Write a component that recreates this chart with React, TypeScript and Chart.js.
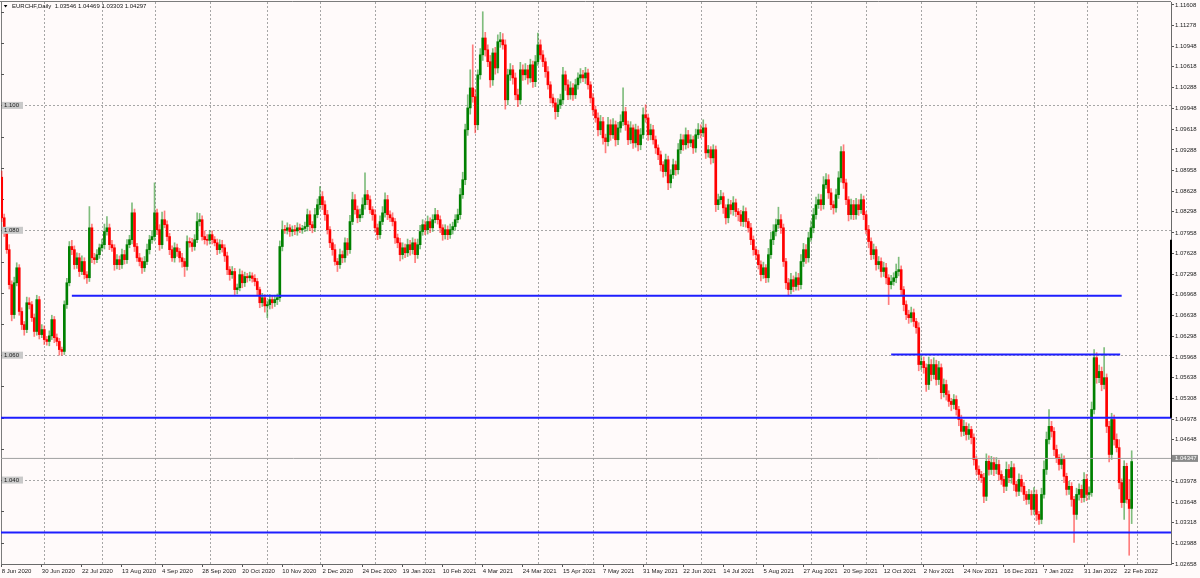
import React, { useEffect, useRef } from "react";
import { Chart, registerables } from "chart.js";

Chart.register(...registerables);

const FONT = "'Liberation Sans', Arial, sans-serif";
const BG = "#fffafa";

// ---- data (EURCHF daily) ----
const symbolName = "EURCHF,Daily";
const firstOpen = 1.0885;
const closes = [
  1.0820, 1.0798, 1.0769, 1.0713, 1.0665, 1.0716, 1.0740, 1.0670, 1.0649, 1.0641,
  1.0684, 1.0681, 1.0660, 1.0638, 1.0689, 1.0633, 1.0641, 1.0625, 1.0622, 1.0631,
  1.0657, 1.0628, 1.0622, 1.0609, 1.0606, 1.0681, 1.0716, 1.0774, 1.0769, 1.0745,
  1.0756, 1.0734, 1.0750, 1.0729, 1.0724, 1.0804, 1.0756, 1.0753, 1.0761, 1.0772,
  1.0777, 1.0798, 1.0804, 1.0777, 1.0772, 1.0745, 1.0753, 1.0745, 1.0761, 1.0753,
  1.0777, 1.0785, 1.0828, 1.0774, 1.0756, 1.0750, 1.0740, 1.0750, 1.0769, 1.0785,
  1.0790, 1.0828, 1.0801, 1.0777, 1.0817, 1.0809, 1.0790, 1.0769, 1.0756, 1.0772,
  1.0766, 1.0756, 1.0750, 1.0742, 1.0782, 1.0780, 1.0774, 1.0785, 1.0814, 1.0817,
  1.0790, 1.0785, 1.0784, 1.0793, 1.0785, 1.0780, 1.0769, 1.0777, 1.0772, 1.0759,
  1.0737, 1.0729, 1.0734, 1.0705, 1.0708, 1.0729, 1.0716, 1.0726, 1.0724, 1.0727,
  1.0723, 1.0718, 1.0705, 1.0684, 1.0692, 1.0679, 1.0681, 1.0689, 1.0684, 1.0689,
  1.0692, 1.0774, 1.0801, 1.0800, 1.0804, 1.0798, 1.0801, 1.0799, 1.0804, 1.0801,
  1.0803, 1.0806, 1.0825, 1.0809, 1.0804, 1.0825, 1.0841, 1.0854, 1.0841, 1.0825,
  1.0801, 1.0780, 1.0769, 1.0750, 1.0745, 1.0761, 1.0756, 1.0780, 1.0769, 1.0814,
  1.0849, 1.0833, 1.0820, 1.0825, 1.0841, 1.0857, 1.0849, 1.0833, 1.0825, 1.0804,
  1.0793, 1.0814, 1.0828, 1.0849, 1.0825, 1.0820, 1.0814, 1.0788, 1.0780, 1.0761,
  1.0772, 1.0764, 1.0777, 1.0769, 1.0780, 1.0761, 1.0777, 1.0798, 1.0809, 1.0801,
  1.0814, 1.0804, 1.0817, 1.0825, 1.0817, 1.0804, 1.0793, 1.0801, 1.0793, 1.0801,
  1.0806, 1.0817, 1.0825, 1.0857, 1.0881, 1.0961, 1.0996, 1.1028, 1.1014, 1.0969,
  1.1049, 1.1081, 1.1108, 1.1089, 1.1070, 1.1041, 1.1084, 1.1060, 1.1102, 1.1105,
  1.1097, 1.1009, 1.1049, 1.1057, 1.1044, 1.1017, 1.1009, 1.1057, 1.1049, 1.1057,
  1.1044, 1.1065, 1.1038, 1.1070, 1.1097, 1.1081, 1.1070, 1.1054, 1.1033, 1.1012,
  1.1004, 1.0990, 1.1001, 1.1009, 1.1049, 1.1033, 1.1017, 1.1028, 1.1017, 1.1033,
  1.1044, 1.1049, 1.1044, 1.1052, 1.1033, 1.1012, 1.0993, 1.0980, 1.0961, 1.0974,
  1.0948, 1.0942, 1.0969, 1.0953, 1.0969, 1.0945, 1.0964, 1.0974, 1.0990, 1.0969,
  1.0945, 1.0964, 1.0940, 1.0961, 1.0937, 1.0953, 1.0985, 1.0980, 1.0953, 1.0961,
  1.0945, 1.0932, 1.0921, 1.0905, 1.0894, 1.0913, 1.0876, 1.0889, 1.0905, 1.0897,
  1.0929, 1.0945, 1.0937, 1.0953, 1.0940, 1.0945, 1.0932, 1.0953, 1.0961, 1.0956,
  1.0964, 1.0924, 1.0929, 1.0916, 1.0929, 1.0841, 1.0849, 1.0854, 1.0836, 1.0820,
  1.0841, 1.0833, 1.0844, 1.0830, 1.0825, 1.0814, 1.0830, 1.0814, 1.0804, 1.0785,
  1.0769, 1.0761, 1.0745, 1.0729, 1.0740, 1.0724, 1.0761, 1.0785, 1.0798, 1.0809,
  1.0817, 1.0804, 1.0750, 1.0716, 1.0705, 1.0721, 1.0710, 1.0724, 1.0713, 1.0750,
  1.0769, 1.0756, 1.0788, 1.0804, 1.0825, 1.0841, 1.0849, 1.0841, 1.0873, 1.0881,
  1.0860, 1.0841, 1.0836, 1.0857, 1.0884, 1.0926, 1.0876, 1.0849, 1.0825, 1.0841,
  1.0825, 1.0841, 1.0833, 1.0849, 1.0825, 1.0801, 1.0782, 1.0761, 1.0769, 1.0745,
  1.0750, 1.0734, 1.0740, 1.0724, 1.0713, 1.0718, 1.0724, 1.0734, 1.0737, 1.0705,
  1.0681, 1.0665, 1.0660, 1.0668, 1.0654, 1.0644, 1.0585, 1.0590, 1.0580, 1.0553,
  1.0585, 1.0569, 1.0585, 1.0561, 1.0580, 1.0540, 1.0553, 1.0537, 1.0526, 1.0521,
  1.0529, 1.0513, 1.0497, 1.0478, 1.0486, 1.0473, 1.0481, 1.0468, 1.0433, 1.0417,
  1.0409, 1.0404, 1.0374, 1.0430, 1.0417, 1.0428, 1.0417, 1.0425, 1.0409, 1.0401,
  1.0390, 1.0417, 1.0404, 1.0420, 1.0393, 1.0382, 1.0401, 1.0390, 1.0377, 1.0369,
  1.0377, 1.0353, 1.0377, 1.0345, 1.0337, 1.0377, 1.0417, 1.0465, 1.0486, 1.0478,
  1.0449, 1.0436, 1.0425, 1.0433, 1.0406, 1.0385, 1.0390, 1.0369, 1.0345, 1.0377,
  1.0385, 1.0372, 1.0401, 1.0377, 1.0380, 1.0513, 1.0596, 1.0564, 1.0574, 1.0553,
  1.0564, 1.0486, 1.0441, 1.0497, 1.0465, 1.0452, 1.0396, 1.0364, 1.0422, 1.0369,
  1.03546, 1.04297,
];
// wick lengths above the body / below the body, in pips (0.0001)
const upperWickPips = [
  10, 6, 5, 8, 6, 9, 8, 5, 6, 5,
  9, 8, 5, 6, 7, 5, 8, 6, 5, 8,
  7, 5, 6, 5, 4, 6, 7, 8, 10, 6,
  8, 7, 9, 6, 5, 34, 6, 7, 8, 6,
  9, 12, 18, 6, 7, 5, 8, 6, 9, 7,
  8, 7, 16, 6, 5, 7, 6, 8, 9, 7,
  10, 48, 6, 8, 12, 14, 6, 5, 6, 8,
  6, 5, 7, 5, 9, 6, 7, 8, 14, 10,
  6, 9, 8, 7, 6, 5, 6, 8, 7, 5,
  6, 5, 8, 5, 6, 9, 6, 7, 5, 6,
  5, 6, 5, 4, 7, 5, 6, 8, 6, 7,
  6, 9, 14, 7, 8, 5, 6, 7, 8, 6,
  5, 7, 9, 6, 5, 10, 9, 16, 8, 6,
  7, 5, 6, 8, 5, 9, 6, 8, 7, 10,
  12, 8, 6, 9, 11, 35, 7, 6, 5, 8,
  6, 9, 10, 11, 7, 6, 8, 5, 6, 7,
  8, 6, 9, 7, 8, 6, 9, 10, 8, 6,
  9, 6, 8, 10, 7, 6, 5, 8, 6, 9,
  7, 8, 9, 10, 12, 9, 21, 29, 69, 12,
  8, 10, 42, 9, 8, 10, 7, 9, 11, 12,
  10, 8, 9, 10, 7, 8, 9, 12, 8, 10,
  7, 9, 6, 10, 19, 8, 7, 6, 8, 5,
  6, 7, 10, 9, 12, 6, 8, 10, 7, 9,
  8, 10, 7, 9, 6, 5, 7, 6, 8, 10,
  7, 6, 12, 8, 10, 6, 9, 11, 38, 7,
  6, 10, 5, 9, 6, 10, 11, 16, 6, 9,
  7, 6, 5, 6, 5, 9, 6, 8, 9, 6,
  10, 9, 8, 11, 7, 8, 6, 9, 10, 8,
  13, 6, 7, 5, 8, 6, 9, 10, 6, 5,
  9, 7, 10, 6, 5, 7, 9, 6, 5, 7,
  6, 5, 7, 6, 9, 5, 10, 12, 11, 9,
  20, 8, 6, 5, 7, 10, 6, 9, 7, 11,
  10, 8, 9, 11, 10, 12, 9, 8, 13, 10,
  8, 7, 6, 9, 10, 8, 11, 6, 5, 9,
  7, 10, 8, 9, 6, 5, 7, 6, 9, 5,
  8, 6, 9, 7, 5, 10, 8, 12, 20, 6,
  5, 6, 7, 9, 6, 5, 8, 10, 7, 6,
  12, 8, 11, 7, 10, 6, 9, 7, 6, 5,
  8, 6, 5, 7, 10, 6, 9, 5, 6, 5,
  6, 5, 7, 12, 9, 10, 8, 11, 7, 6,
  5, 12, 8, 10, 6, 5, 9, 7, 6, 5,
  8, 6, 11, 7, 5, 10, 14, 12, 27, 8,
  6, 7, 5, 9, 6, 5, 8, 6, 5, 10,
  9, 7, 11, 8, 9, 12, 13, 8, 10, 7,
  48, 6, 8, 10, 7, 9, 13, 6, 9, 5,
  32, 17.2,
];
const lowerWickPips = [
  6, 8, 6, 7, 10, 6, 5, 6, 8, 9,
  5, 7, 6, 8, 6, 7, 5, 8, 6, 7,
  6, 8, 7, 9, 6, 5, 6, 5, 8, 7,
  6, 8, 5, 7, 9, 6, 8, 7, 5, 6,
  5, 7, 6, 8, 6, 9, 7, 8, 6, 7,
  6, 5, 7, 8, 6, 7, 9, 6, 5, 7,
  6, 7, 8, 9, 6, 5, 7, 8, 6, 7,
  8, 7, 9, 16, 6, 7, 8, 6, 5, 7,
  6, 7, 8, 6, 7, 5, 8, 6, 7, 9,
  8, 9, 6, 8, 7, 5, 8, 6, 7, 5,
  6, 7, 9, 8, 6, 10, 19, 7, 9, 6,
  8, 6, 7, 5, 6, 8, 7, 6, 7, 5,
  6, 5, 7, 9, 8, 6, 5, 7, 8, 9,
  7, 8, 9, 6, 11, 6, 8, 7, 9, 6,
  5, 7, 8, 6, 5, 7, 8, 6, 9, 7,
  8, 6, 5, 7, 8, 6, 7, 9, 8, 10,
  7, 8, 6, 9, 7, 13, 6, 7, 6, 8,
  7, 8, 6, 5, 7, 8, 9, 7, 8, 6,
  7, 6, 5, 7, 6, 8, 9, 10, 9, 13,
  8, 7, 9, 10, 8, 12, 9, 10, 8, 9,
  7, 15, 8, 9, 10, 8, 11, 7, 9, 8,
  10, 7, 9, 8, 6, 7, 8, 9, 7, 8,
  7, 12, 8, 6, 7, 9, 8, 7, 9, 6,
  7, 8, 6, 9, 7, 8, 9, 7, 10, 8,
  10, 18, 7, 9, 6, 10, 8, 7, 6, 9,
  8, 6, 9, 7, 10, 8, 6, 7, 9, 8,
  7, 9, 8, 10, 9, 7, 11, 8, 6, 9,
  7, 6, 9, 7, 8, 6, 9, 7, 6, 8,
  6, 9, 7, 10, 8, 11, 8, 7, 9, 10,
  8, 7, 9, 8, 10, 7, 8, 9, 7, 8,
  9, 8, 7, 10, 6, 8, 7, 6, 8, 7,
  6, 9, 8, 10, 9, 7, 8, 6, 9, 7,
  8, 9, 7, 6, 8, 7, 6, 9, 7, 6,
  9, 8, 10, 7, 6, 7, 9, 8, 10, 7,
  8, 7, 9, 6, 8, 7, 10, 8, 7, 9,
  7, 9, 8, 10, 32, 7, 6, 8, 7, 9,
  10, 8, 9, 7, 8, 9, 10, 8, 9, 11,
  8, 10, 7, 9, 8, 10, 7, 9, 8, 10,
  7, 9, 10, 8, 7, 9, 8, 10, 9, 8,
  9, 8, 10, 7, 9, 8, 10, 7, 9, 8,
  10, 7, 8, 9, 10, 8, 7, 9, 10, 8,
  7, 9, 8, 10, 8, 7, 6, 8, 7, 9,
  10, 8, 9, 7, 10, 9, 8, 11, 45, 8,
  9, 8, 7, 10, 8, 6, 7, 9, 8, 10,
  7, 10, 12, 8, 9, 7, 10, 8, 27, 6,
  75, 24.3,
];

const dateLabels = [
  "8 Jun 2020", "30 Jun 2020", "22 Jul 2020", "13 Aug 2020", "4 Sep 2020",
  "28 Sep 2020", "20 Oct 2020", "10 Nov 2020", "2 Dec 2020", "24 Dec 2020",
  "19 Jan 2021", "10 Feb 2021", "4 Mar 2021", "24 Mar 2021", "15 Apr 2021",
  "7 May 2021", "31 May 2021", "22 Jun 2021", "14 Jul 2021", "5 Aug 2021",
  "27 Aug 2021", "20 Sep 2021", "12 Oct 2021", "2 Nov 2021", "24 Nov 2021",
  "16 Dec 2021", "7 Jan 2022", "31 Jan 2022", "22 Feb 2022",
];
const dateLabelEvery = 16; // bars between date labels
const monthStartBars = [17, 40, 61, 83, 106, 127, 149, 169, 189, 214, 236, 257, 279, 301, 323, 345, 367, 389, 412, 433, 453];

const priceTicks = [
  1.11608, 1.11278, 1.10948, 1.10618, 1.10288, 1.09948, 1.09618, 1.09288, 1.08958,
  1.08628, 1.08298, 1.07958, 1.07628, 1.07298, 1.06968, 1.06638, 1.06298, 1.05968,
  1.05638, 1.05308, 1.04978, 1.04648, 1.03978, 1.03648, 1.03318, 1.02988, 1.02658,
];
const roundLevels = [1.1, 1.08, 1.06, 1.04];
const levelPrices = [1.0695, 1.0601, 1.05, 1.0316];
const levelFromBar = [28, 355, null, null];
const levelToBar = [447, 446.4, null, null];
const bidPrice = 1.04347;
const lastOhlc = ["1.03546", "1.04469", "1.03303", "1.04297"];

const xMin = -0.28;
const xMax = 466.69;
const yMin = 1.02656;
const yMax = 1.11656;

const opens = closes.map((c, i) => (i === 0 ? firstOpen : closes[i - 1]));
const highs = closes.map((c, i) => Math.max(opens[i], c) + upperWickPips[i] / 10000);
const lows = closes.map((c, i) => Math.min(opens[i], c) - lowerWickPips[i] / 10000);
const isUp = closes.map((c, i) => c >= opens[i]);

const mtPlugin = {
  id: "mtDecor",
  beforeDraw(chart: any) {
    const { ctx, width, height } = chart;
    ctx.save();
    ctx.fillStyle = BG;
    ctx.fillRect(0, 0, width, height);
    ctx.restore();
  },
  beforeDatasetsDraw(chart: any) {
    const { ctx, chartArea: a, scales } = chart;
    const x = scales.x;
    const y = scales.y;
    ctx.save();
    ctx.strokeStyle = "#a6a6a6";
    ctx.lineWidth = 1;
    ctx.setLineDash([2, 2]);
    roundLevels.forEach((v) => {
      const py = Math.round(y.getPixelForValue(v)) + 0.5;
      ctx.beginPath();
      ctx.moveTo(a.left, py);
      ctx.lineTo(a.right, py);
      ctx.stroke();
    });
    monthStartBars.forEach((i) => {
      const px = Math.round(x.getPixelForValue(i)) + 0.5;
      ctx.beginPath();
      ctx.moveTo(px, a.top);
      ctx.lineTo(px, a.bottom);
      ctx.stroke();
    });
    ctx.setLineDash([]);
    // frame
    ctx.strokeStyle = "#7c7c7c";
    ctx.beginPath();
    ctx.moveTo(0, a.top - 0.5);
    ctx.lineTo(a.right, a.top - 0.5);
    ctx.moveTo(a.left + 0.5, a.top);
    ctx.lineTo(a.left + 0.5, a.bottom);
    ctx.stroke();
    // small marks on left edge every 0.005
    ctx.strokeStyle = "#555";
    for (let k = 206; k <= 223; k++) {
      const v = k * 0.005;
      const py = Math.round(y.getPixelForValue(v)) + 0.5;
      if (py < a.top || py > a.bottom) continue;
      ctx.beginPath();
      ctx.moveTo(a.left, py);
      ctx.lineTo(a.left + 3, py);
      ctx.stroke();
    }
    ctx.restore();
  },
  afterDatasetsDraw(chart: any) {
    const { ctx, chartArea: a, scales } = chart;
    const y = scales.y;
    ctx.save();
    ctx.font = `6px ${FONT}`;
    ctx.textBaseline = "middle";
    roundLevels.forEach((v) => {
      const py = y.getPixelForValue(v);
      ctx.fillStyle = "#c9c9c9";
      ctx.fillRect(a.left + 1, py - 3.5, 21, 7);
      ctx.fillStyle = "#1a1a1a";
      ctx.fillText(v.toFixed(3), a.left + 3, py + 0.3);
    });
    ctx.restore();
  },
  afterDraw(chart: any) {
    const { ctx, chartArea: a, scales } = chart;
    const y = scales.y;
    ctx.save();
    // black marker on price scale edge
    ctx.strokeStyle = "#000";
    ctx.lineWidth = 2;
    ctx.beginPath();
    ctx.moveTo(a.right, y.getPixelForValue(1.0785));
    ctx.lineTo(a.right, y.getPixelForValue(1.05));
    ctx.stroke();
    // bid label box
    const by = y.getPixelForValue(bidPrice);
    ctx.fillStyle = "#8a8a8a";
    ctx.fillRect(a.right + 1, by - 3.5, 26, 7);
    ctx.fillStyle = "#ffffff";
    ctx.font = `6px ${FONT}`;
    ctx.textBaseline = "middle";
    ctx.fillText(bidPrice.toFixed(5), a.right + 4, by + 0.3);
    // title
    ctx.fillStyle = "#000";
    ctx.beginPath();
    ctx.moveTo(3.8, 5);
    ctx.lineTo(7.4, 5);
    ctx.lineTo(5.6, 7.4);
    ctx.closePath();
    ctx.fill();
    ctx.fillStyle = "#111";
    ctx.fillText(`${symbolName}  ${lastOhlc.join(" ")}`, 12, 6.5);
    ctx.restore();
  },
};

export default function App() {
  const ref = useRef<HTMLCanvasElement | null>(null);

  useEffect(() => {
    document.body.style.margin = "0";
    const canvas = ref.current;
    if (!canvas) return;
    Chart.defaults.font.family = FONT;

    const bodyData = closes.map((c, i) => ({ x: i, y: [opens[i], c] }));
    const wickData = closes.map((c, i) => ({ x: i, y: [lows[i], highs[i]] }));
    const lineSets = levelPrices.map((p, k) => ({
      type: "line" as const,
      data: [
        { x: levelFromBar[k] ?? xMin, y: p },
        { x: levelToBar[k] ?? xMax, y: p },
      ],
      borderColor: "#1e1eff",
      borderWidth: 2,
      pointRadius: 0,
      tension: 0,
      order: -1,
    }));

    const chart = new Chart(canvas, {
      type: "bar",
      data: {
        datasets: [
          {
            type: "line" as const,
            data: [
              { x: xMin, y: bidPrice },
              { x: xMax, y: bidPrice },
            ],
            borderColor: "#a0a0a0",
            borderWidth: 1,
            pointRadius: 0,
            order: 0,
          },
          ...lineSets,
          {
            type: "bar" as const,
            data: bodyData as any,
            backgroundColor: isUp.map((u) => (u ? "#008000" : "#ff0000")),
            borderWidth: 0,
            barThickness: 2,
            maxBarThickness: 2,
            minBarLength: 1,
            grouped: false,
            order: 1,
          },
          {
            type: "bar" as const,
            data: wickData as any,
            backgroundColor: isUp.map((u) => (u ? "rgba(0,128,0,0.5)" : "rgba(255,0,0,0.5)")),
            borderWidth: 0,
            barThickness: 1,
            maxBarThickness: 1,
            grouped: false,
            order: 2,
          },
        ] as any,
      },
      options: {
        responsive: false,
        maintainAspectRatio: false,
        animation: false,
        devicePixelRatio: 1,
        events: [],
        layout: { padding: { top: 2, left: 1, right: 0, bottom: 0 } },
        plugins: { legend: { display: false }, tooltip: { enabled: false }, title: { display: false } },
        scales: {
          x: {
            type: "linear",
            min: xMin,
            max: xMax,
            offset: false,
            position: "bottom",
            afterBuildTicks: (s: any) => {
              s.ticks = dateLabels.map((_, k) => ({ value: k * dateLabelEvery }));
            },
            afterFit: (s: any) => {
              s.height = 14;
              s.paddingLeft = 0;
              s.paddingRight = 0;
            },
            ticks: {
              autoSkip: false,
              maxRotation: 0,
              minRotation: 0,
              align: "start",
              padding: 1,
              color: "#222",
              font: { family: FONT, size: 6 },
              callback: (v: any) => dateLabels[Math.round(Number(v) / dateLabelEvery)] ?? "",
            },
            grid: { display: true, offset: false, drawOnChartArea: false, drawTicks: true, tickLength: 3, color: "#555" },
            border: { display: true, color: "#6a6a6a", width: 1 },
          },
          y: {
            type: "linear",
            position: "right",
            min: yMin,
            max: yMax,
            beginAtZero: false,
            afterBuildTicks: (s: any) => {
              s.ticks = priceTicks.map((v) => ({ value: v }));
            },
            afterFit: (s: any) => {
              s.width = 29;
              s.paddingTop = 0;
              s.paddingBottom = 0;
            },
            ticks: {
              autoSkip: false,
              padding: 1,
              color: "#222",
              font: { family: FONT, size: 6 },
              callback: (v: any) => Number(v).toFixed(5),
            },
            grid: { display: true, drawOnChartArea: false, drawTicks: true, tickLength: 3, color: "#555" },
            border: { display: true, color: "#6a6a6a", width: 1 },
          },
        },
      } as any,
      plugins: [mtPlugin],
    });
    return () => chart.destroy();
  }, []);

  return (
    <div style={{ position: "absolute", left: 0, top: 0, width: 1200, height: 578, background: BG }}>
      <canvas ref={ref} width={1200} height={578} style={{ display: "block" }} />
    </div>
  );
}
